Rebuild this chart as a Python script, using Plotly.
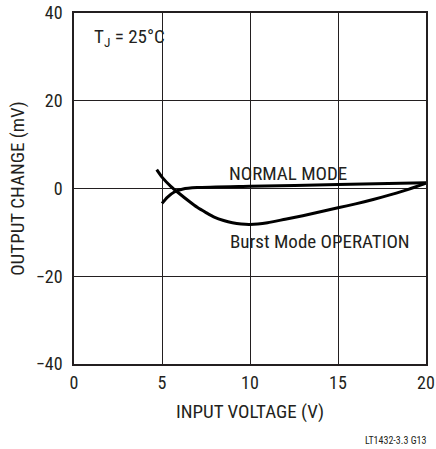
import plotly.graph_objects as go

normal_v = [5.0, 5.3, 5.7, 6.2, 7.0, 10.0, 15.0, 20.0]
normal_dv = [-3.4, -2.0, -0.8, -0.1, 0.2, 0.5, 0.9, 1.3]

burst_v = [4.7, 5.0, 5.5, 6.0, 6.5, 7.0, 7.5, 8.0, 8.5, 9.0, 9.5, 10.0, 11.0, 12.0,
           13.0, 14.0, 15.0, 16.0, 17.0, 18.0, 19.0, 20.0]
burst_dv = [4.3, 2.6, 0.5, -1.2, -2.8, -4.3, -5.5, -6.6, -7.3, -7.8, -8.1, -8.2, -7.8, -7.0,
            -6.2, -5.3, -4.4, -3.5, -2.5, -1.4, -0.2, 1.2]

x_ticks = [0, 5, 10, 15, 20]
y_ticks = [-40, -20, 0, 20, 40]

FONT = "Roboto Condensed, sans-serif"
INK = "#231f20"

fig = go.Figure()
fig.add_trace(go.Scatter(x=normal_v, y=normal_dv, mode="lines",
                         line=dict(color="black", width=3, shape="spline", smoothing=0.6),
                         showlegend=False, hoverinfo="skip"))
fig.add_trace(go.Scatter(x=burst_v, y=burst_dv, mode="lines",
                         line=dict(color="black", width=3, shape="spline", smoothing=0.6),
                         showlegend=False, hoverinfo="skip"))

fig.update_layout(
    width=436, height=449,
    margin=dict(l=74, r=10, t=13, b=85),
    paper_bgcolor="white", plot_bgcolor="white",
    font=dict(family=FONT, size=19, color=INK),
    xaxis=dict(range=[0, 20], tickvals=x_ticks, ticks="", showgrid=True,
               gridcolor=INK, gridwidth=1, zeroline=False, automargin=False,
               showline=True, linecolor=INK, linewidth=1.5, mirror=True,
               ticklabelstandoff=2,
               title=dict(text="INPUT VOLTAGE (V)", standoff=12, font=dict(size=19)),
               tickfont=dict(size=18)),
    yaxis=dict(range=[-40, 40], tickvals=y_ticks, ticks="", showgrid=True,
               gridcolor=INK, gridwidth=1, zeroline=False, automargin=False,
               showline=True, linecolor=INK, linewidth=1.5, mirror=True,
               ticklabelstandoff=6,
               title=dict(text="OUTPUT CHANGE (mV)", standoff=6, font=dict(size=19)),
               tickfont=dict(size=18)),
    annotations=[
        dict(x=1.0, y=34.5, xref="x", yref="y", text="T<sub>J</sub> = 25°C",
             showarrow=False, xanchor="left", yanchor="middle", font=dict(size=19)),
        dict(x=8.7, y=3.4, xref="x", yref="y", text="NORMAL MODE",
             showarrow=False, xanchor="left", yanchor="middle", font=dict(size=19)),
        dict(x=8.75, y=-12.0, xref="x", yref="y", text="Burst Mode OPERATION",
             showarrow=False, xanchor="left", yanchor="middle", font=dict(size=19)),
        dict(x=1.006, y=-0.219, xref="paper", yref="paper", text="LT1432-3.3 G13",
             showarrow=False, xanchor="right", yanchor="middle", font=dict(size=10)),
    ],
)

# remove the page's default 8px body margin so the figure fills the window exactly
fig.write_html("out.html", config={"displayModeBar": False},
               post_script="document.body.style.margin='0';")
